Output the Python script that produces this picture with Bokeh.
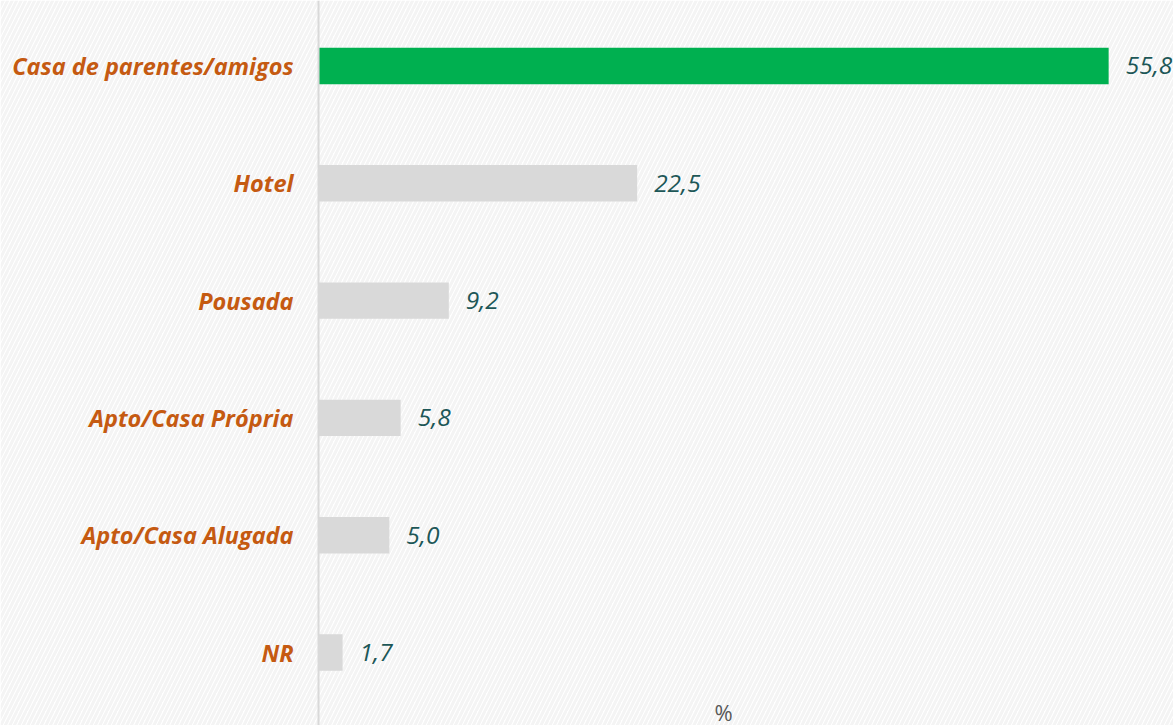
from bokeh.plotting import figure
from bokeh.models import ColumnDataSource, Range1d, Span, Label, BoxAnnotation
from bokeh.core.properties import value
from bokeh.embed import file_html
from bokeh.resources import INLINE

categories = ["Casa de parentes/amigos", "Hotel", "Pousada", "Apto/Casa Própria", "Apto/Casa Alugada", "NR"]
values = [55.8, 22.5, 9.2, 5.8, 5.0, 1.7]
value_labels = ["55,8", "22,5", "9,2", "5,8", "5,0", "1,7"]
colors = ["#00B050", "#D9D9D9", "#D9D9D9", "#D9D9D9", "#D9D9D9", "#D9D9D9"]

n = len(categories)
ypos = [n - 1 - i for i in range(n)]

src = ColumnDataSource(dict(cat=categories, val=values, lab=value_labels, col=colors, y=ypos,
                            zero=[0] * n))

p = figure(width=1173, height=725, output_backend="svg", toolbar_location=None,
           x_range=Range1d(-22.46, 60.38), y_range=Range1d(-0.622, 5.558),
           min_border=0, outline_line_color=None)
p.axis.visible = False
p.grid.visible = False
p.background_fill_color = "white"
p.border_fill_color = "white"

p.add_layout(BoxAnnotation(fill_color="white", fill_alpha=1, line_color=None,
                           hatch_pattern="/", hatch_color="#F4F4F4", hatch_scale=9,
                           hatch_weight=3, level="underlay"))

p.add_layout(Span(location=0, dimension="height", line_color="#D9D9D9", line_width=2))

p.hbar(y="y", left="zero", right="val", height=0.31, fill_color="col", line_color=None, source=src)

p.text(x="zero", y="y", text="cat", source=src, x_offset=-25, text_align="right",
       text_baseline="middle", text_color="#C55A11", text_font=value("Open Sans"),
       text_font_size="23.5px", text_font_style="bold italic")

p.text(x="val", y="y", text="lab", source=src, x_offset=17, text_align="left",
       text_baseline="middle", text_color="#1D5757", text_font=value("Open Sans"),
       text_font_size="24.5px", text_font_style="italic")

p.add_layout(Label(x=714, y=-1, x_units="screen", y_units="screen", text="%",
                   text_baseline="bottom",
                   text_color="#595959", text_font="Open Sans", text_font_size="22px"))

open("out.html", "w").write(file_html(p, INLINE))
